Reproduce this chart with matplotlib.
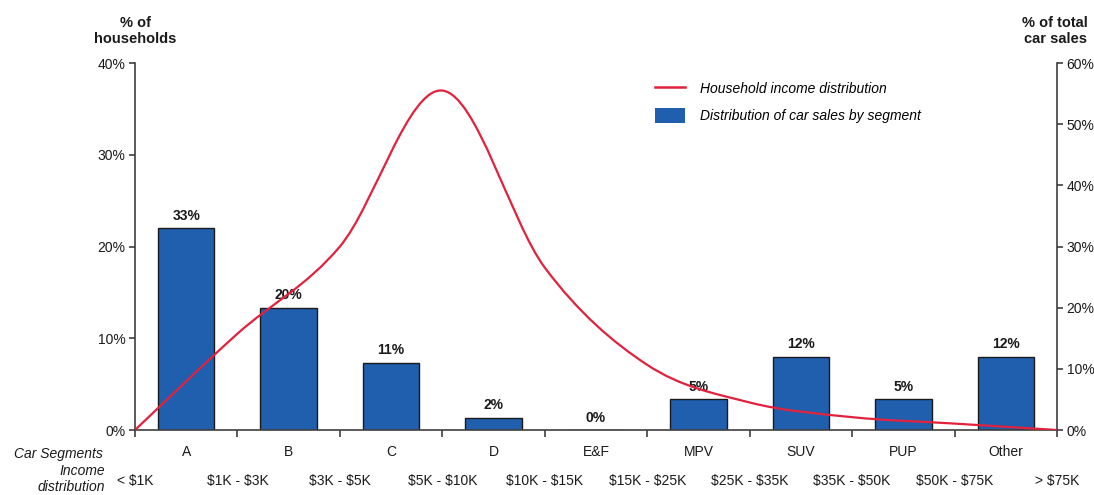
import matplotlib
matplotlib.use("Agg")
import matplotlib.pyplot as plt
from matplotlib.path import Path
from matplotlib.patches import PathPatch, Patch
from matplotlib.lines import Line2D
from matplotlib.ticker import PercentFormatter

plt.rcParams['font.family'] = ['Liberation Sans', 'DejaVu Sans']
plt.rcParams['text.parse_math'] = False

# car sales by segment (% of total car sales, right axis)
segments = ['A', 'B', 'C', 'D', 'E&F', 'MPV', 'SUV', 'PUP', 'Other']
sales_share = [33, 20, 11, 2, 0, 5, 12, 5, 12]

# household income distribution (% of households, left axis), one value per bracket edge
income_brackets = ['< $1K', '$1K - $3K', '$3K - $5K', '$5K - $10K', '$10K - $15K',
                   '$15K - $25K', '$25K - $35K', '$35K - $50K', '$50K - $75K', '> $75K']
household_share = [0, 10.5, 20.0, 37.0, 17.7, 7.1, 3.0, 1.4, 0.7, 0]

BAR_BLUE = '#1f5fae'
LINE_RED = '#e2213d'
DARK = '#1a1a1a'
SPINE = '#404040'
FS = 10


def smooth_path(xs, ys):
    # Catmull-Rom style cubic Bezier through the points (like a "smoothed line" in a spreadsheet)
    verts = [(xs[0], ys[0])]
    codes = [Path.MOVETO]
    n = len(xs)
    for i in range(n - 1):
        x0, y0 = (xs[i - 1], ys[i - 1]) if i > 0 else (xs[i], ys[i])
        x1, y1 = xs[i], ys[i]
        x2, y2 = xs[i + 1], ys[i + 1]
        x3, y3 = (xs[i + 2], ys[i + 2]) if i + 2 < n else (x2, y2)
        c1 = (x1 + (x2 - x0) / 6, y1 + (y2 - y0) / 6)
        c2 = (x2 - (x3 - x1) / 6, y2 - (y3 - y1) / 6)
        verts += [c1, c2, (x2, y2)]
        codes += [Path.CURVE4] * 3
    return Path(verts, codes)


fig = plt.figure(figsize=(10.94, 4.95), dpi=100)
ax = fig.add_axes([0.1234, 0.1313, 0.8428, 0.7414])
ax2 = ax.twinx()

# income curve on the left axis
edges = list(range(len(income_brackets)))
ax.add_patch(PathPatch(smooth_path(edges, household_share), facecolor='none',
                       edgecolor=LINE_RED, lw=1.6, zorder=3))
ax.set_xlim(0, len(segments))
ax.set_ylim(0, 40)
ax.set_yticks([0, 10, 20, 30, 40])
ax.yaxis.set_major_formatter(PercentFormatter(decimals=0))
ax.set_xticks(edges)
ax.set_xticklabels([])

# segment bars on the right axis
centers = [i + 0.5 for i in range(len(segments))]
bars = ax2.bar(centers, sales_share, width=0.55, color=BAR_BLUE, edgecolor=DARK,
               linewidth=1.0, zorder=2)
for b, v in zip(bars, sales_share):
    ax2.text(b.get_x() + b.get_width() / 2, v + 0.9, f'{v}%', ha='center', va='bottom',
             fontsize=FS, fontweight='bold', color=DARK)
ax2.set_ylim(0, 60)
ax2.set_yticks([0, 10, 20, 30, 40, 50, 60])
ax2.yaxis.set_major_formatter(PercentFormatter(decimals=0))

# keep the curve above the bars
ax.set_zorder(ax2.get_zorder() + 1)
ax.patch.set_visible(False)

for a in (ax, ax2):
    a.spines['top'].set_visible(False)
    for s in ('left', 'right', 'bottom'):
        a.spines[s].set_color(SPINE)
        a.spines[s].set_linewidth(1.2)
    a.tick_params(axis='both', direction='out', length=4, width=1.2, color=SPINE,
                  labelsize=FS, labelcolor=DARK, pad=3)
ax.spines['right'].set_visible(False)
ax2.spines['left'].set_visible(False)
ax2.spines['bottom'].set_visible(False)
ax.tick_params(axis='x', length=5)

# category rows under the axis
tr = ax.get_xaxis_transform()
for c, s in zip(centers, segments):
    ax.text(c, -0.06, s, transform=tr, ha='center', va='center', fontsize=FS, color=DARK)
for e, lab in zip(edges, income_brackets):
    ax.text(e, -0.138, lab, transform=tr, ha='center', va='center', fontsize=FS, color=DARK)
fig.text(103 / 1094, 1 - 454 / 495, 'Car Segments', ha='right', va='center',
         fontsize=FS, style='italic', color=DARK)
fig.text(105 / 1094, 1 - 479 / 495, 'Income\ndistribution', ha='right', va='center',
         fontsize=FS, style='italic', color=DARK, linespacing=1.1)

# axis titles
fig.text(135 / 1094, 1 - 31 / 495, '% of\nhouseholds', ha='center', va='center',
         fontsize=10.5, fontweight='bold', color=DARK, linespacing=1.25)
fig.text(1055 / 1094, 1 - 31 / 495, '% of total\ncar sales', ha='center', va='center',
         fontsize=10.5, fontweight='bold', color=DARK, linespacing=1.25)

handles = [Line2D([], [], color=LINE_RED, lw=1.8),
           Patch(facecolor=BAR_BLUE, edgecolor='none')]
ax.legend(handles, ['Household income distribution', 'Distribution of car sales by segment'],
          loc='upper left', bbox_to_anchor=(0.55, 0.985), frameon=False,
          prop={'style': 'italic', 'size': FS}, handlelength=2.2, handleheight=1.3,
          handletextpad=1.1, labelspacing=0.85)

fig.savefig('out.png', dpi=100)
